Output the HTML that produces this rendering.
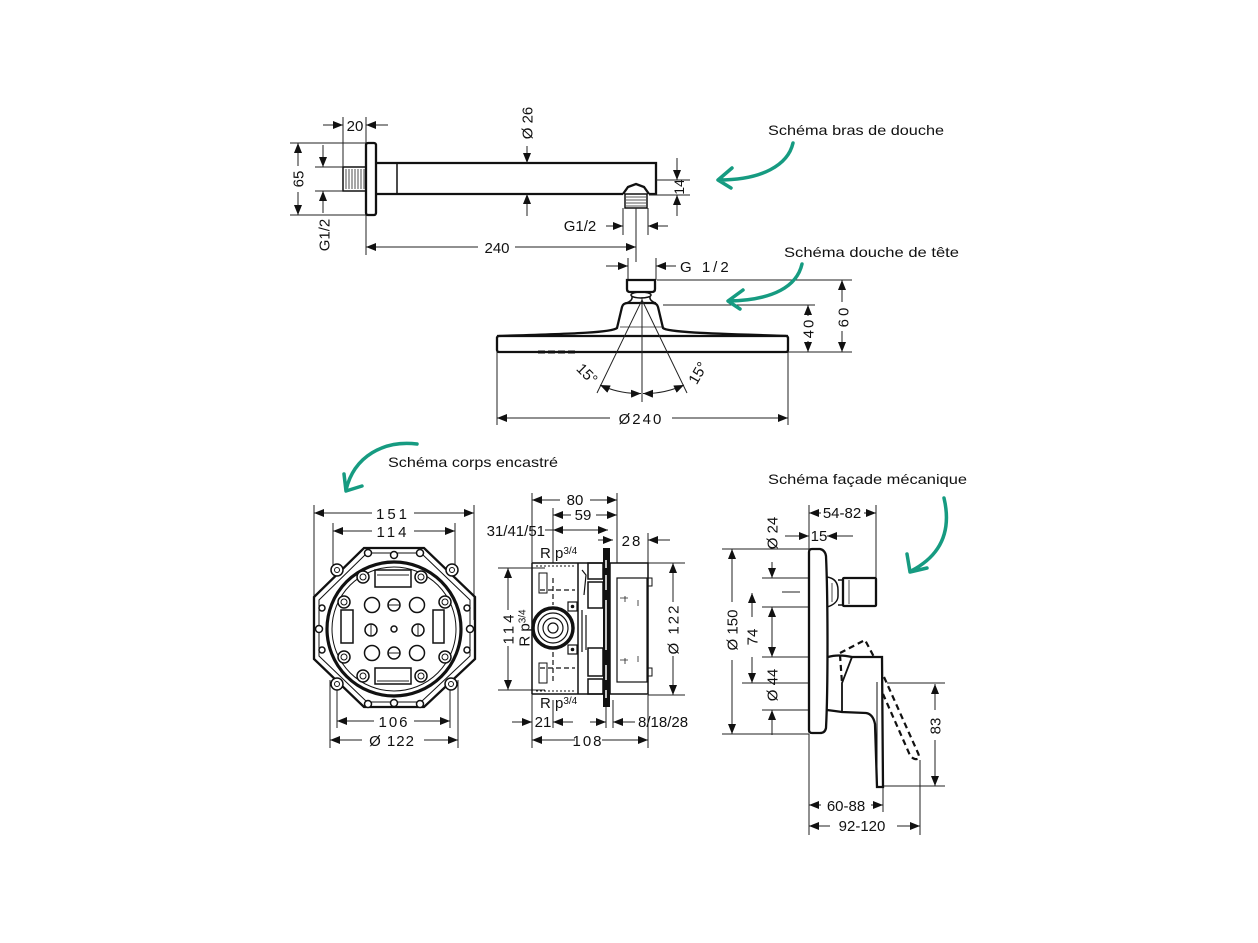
<!DOCTYPE html>
<html><head><meta charset="utf-8"><style>
html,body{margin:0;padding:0;background:#fff;}
svg{display:block;}
text{font-family:"Liberation Sans",sans-serif;fill:#111;}
.o{fill:none;stroke:#111;stroke-width:2.3;}
.t{fill:none;stroke:#222;stroke-width:1;}
.h{fill:none;stroke:#222;stroke-width:0.8;}
.d{fill:none;stroke:#222;stroke-width:1;marker-end:url(#ah);}
.dd{fill:none;stroke:#222;stroke-width:1;marker-start:url(#ah);marker-end:url(#ah);}
.g{fill:none;stroke:#169b81;stroke-width:3.5;stroke-linecap:round;stroke-linejoin:round;}
.dash{fill:none;stroke:#111;stroke-width:2.2;stroke-dasharray:6 4;}
.n{font-size:15px;}
.lab{font-size:14px;}
</style></head><body>
<svg width="1258" height="943" viewBox="0 0 1258 943" xmlns="http://www.w3.org/2000/svg">
<defs>
<marker id="ah" viewBox="0 0 10 8" refX="10" refY="4" markerWidth="10" markerHeight="8" markerUnits="userSpaceOnUse" orient="auto-start-reverse"><path d="M0,0 L10,4 L0,8z" fill="#111"/></marker>
</defs>
<rect width="1258" height="943" fill="#fff"/>

<!-- ============ BRAS DE DOUCHE ============ -->
<g class="o">
<rect x="366" y="143" width="10" height="72" rx="2"/>
<rect x="343" y="167" width="23" height="24" stroke-width="1.5"/>
<path d="M376,163 H656 V194 H649 M623,194 H376"/>
<path d="M397,163 V194" stroke-width="1.5"/>
<path d="M623,194 L628,187 L636,184 L644,187 L649,194"/>
<rect x="625" y="194" width="22" height="14" stroke-width="1.5"/>
</g>
<path class="h" d="M346,169V189M349,169V189M352,169V189M355,169V189M358,169V189M361,169V189M364,169V189"/>
<path class="h" d="M626,197H646M626,200H646M626,203H646M626,206H646"/>
<!-- dims -->
<path class="t" d="M343,117V167 M366,117V143 M290,143H366 M290,215H366 M315,167H343 M315,191H343 M656,180H690 M649,195H690 M623,208V235 M648,208V235 M366,215V255 M636,208V262"/>
<path class="d" d="M323,125H343"/><path class="d" d="M388,125H366"/>
<text class="n" x="355" y="131" text-anchor="middle">20</text>
<path class="d" d="M527,146V163"/><path class="d" d="M527,216V194"/>
<text class="n" transform="translate(527,123) rotate(-90)" text-anchor="middle" dy="5.5">Ø 26</text>
<path class="d" d="M298,166V143"/><path class="d" d="M298,192V215"/>
<text class="n" transform="translate(298,179) rotate(-90)" text-anchor="middle" dy="5.5">65</text>
<path class="d" d="M323,145V167"/><path class="d" d="M323,213V191"/>
<text class="n" transform="translate(324,235) rotate(-90)" text-anchor="middle" dy="5.5">G1/2</text>
<path class="d" d="M677,158V180"/><path class="d" d="M677,216V195"/>
<text class="n" style="font-size:14px" transform="translate(679,187) rotate(-90)" text-anchor="middle" dy="5">14</text>
<text class="n" x="580" y="231" text-anchor="middle">G1/2</text>
<path class="d" d="M606,226H623"/><path class="d" d="M668,226H648"/>
<path class="d" d="M478,247H366"/><path class="d" d="M515,247H636"/>
<text class="n" x="497" y="253" text-anchor="middle">240</text>

<!-- ============ DOUCHE DE TETE ============ -->
<path class="t" d="M628,258V280 M656,258V280 M657,280H852 M663,305H815 M788,352H852 M497,352V425 M788,352V425"/>
<path class="d" d="M606,266H628"/><path class="d" d="M676,266H656"/>
<text class="n" x="680" y="272" style="letter-spacing:3px">G 1/2</text>
<g class="o">
<path d="M627,280 H655 V289 Q655,292 652,292 H630 Q627,292 627,289 Z"/>
<ellipse cx="641" cy="295" rx="10" ry="3" stroke-width="1.5"/>
<path d="M632,296 Q633,301 626,303 M650,296 Q649,301 656,303" stroke-width="1.5"/>
<path d="M497,336 C560,334 612,333 617,328 L622,307 Q623,303 628,303 L652,303 Q657,303 658,307 L663,328 C668,333 730,334 788,336"/>
<rect x="497" y="336" width="291" height="16" rx="2"/>
</g>
<path class="h" d="M620,327H662"/>
<path d="M538,352H575" stroke="#111" stroke-width="3" stroke-dasharray="7 3"/>
<path class="t" d="M642,297V402 M642,300L597,393 M642,300L687,393"/>
<path class="dd" d="M600,385 A93.5,93.5 0 0,0 641,393.5"/>
<path class="dd" d="M684,385 A93.5,93.5 0 0,1 643,393.5"/>
<text class="n" transform="translate(587,374) rotate(45)" text-anchor="middle" dy="5">15°</text>
<text class="n" transform="translate(698,373) rotate(-60)" text-anchor="middle" dy="5">15°</text>
<path class="d" d="M610,418H497"/><path class="d" d="M672,418H788"/>
<text class="n" x="641" y="424" text-anchor="middle" style="letter-spacing:2px">Ø240</text>
<path class="d" d="M808,316V305"/><path class="d" d="M808,341V352"/>
<text class="n" transform="translate(808,328) rotate(-90)" text-anchor="middle" dy="5.5" style="letter-spacing:2px">40</text>
<path class="d" d="M842,302V280"/><path class="d" d="M842,331V352"/>
<text class="n" transform="translate(843,316) rotate(-90)" text-anchor="middle" dy="5.5" style="letter-spacing:3px">60</text>

<!-- ============ CORPS ENCASTRE (octagon) ============ -->
<path class="t" d="M314,505V650 M474,505V620 M333,523V575 M455,523V575 M337,690V728 M450,690V728 M330,680V748 M458,680V748"/>
<path class="d" d="M372,513H314"/><path class="d" d="M414,513H474"/>
<text class="n" x="393" y="519" text-anchor="middle" style="letter-spacing:3px">151</text>
<path class="d" d="M372,531H333"/><path class="d" d="M414,531H455"/>
<text class="n" x="393" y="537" text-anchor="middle" style="letter-spacing:3px">114</text>
<path class="d" d="M374,721H337"/><path class="d" d="M414,721H450"/>
<text class="n" x="394" y="727" text-anchor="middle" style="letter-spacing:2px">106</text>
<path class="d" d="M362,740H330"/><path class="d" d="M424,740H458"/>
<text class="n" x="392" y="746" text-anchor="middle" style="letter-spacing:1px">Ø  122</text>
<g class="o">
<path d="M364,548 H424 L475,597 V659 L424,707 H364 L314,659 V597 Z"/>
<path d="M367,553 H421 L470,600 V656 L421,702 H367 L319,656 V600 Z" stroke-width="1"/>
<circle cx="394" cy="629" r="67" stroke-width="3.2"/>
<circle cx="394" cy="629" r="62" stroke-width="1"/>
</g>
<g fill="#fff" stroke="#111" stroke-width="1.5">
<circle cx="337" cy="570" r="6"/><circle cx="452" cy="570" r="6"/><circle cx="337" cy="684" r="6"/><circle cx="451" cy="684" r="6"/>
<circle cx="363" cy="577" r="6"/><circle cx="421" cy="577" r="6"/><circle cx="344" cy="602" r="6"/><circle cx="445" cy="602" r="6"/>
<circle cx="344" cy="657" r="6"/><circle cx="445" cy="657" r="6"/><circle cx="363" cy="676" r="6"/><circle cx="421" cy="676" r="6"/>
<circle cx="394" cy="555" r="3.5"/><circle cx="394" cy="703" r="3.5"/><circle cx="368" cy="553" r="3.5"/><circle cx="420" cy="553" r="3.5"/>
<circle cx="368" cy="704" r="3.5"/><circle cx="420" cy="704" r="3.5"/><circle cx="319" cy="629" r="3.5"/><circle cx="470" cy="629" r="3.5"/>
<circle cx="322" cy="608" r="3"/><circle cx="322" cy="650" r="3"/><circle cx="467" cy="608" r="3"/><circle cx="467" cy="650" r="3"/>
</g>
<g fill="none" stroke="#111" stroke-width="1">
<circle cx="337" cy="570" r="2.5"/><circle cx="452" cy="570" r="2.5"/><circle cx="337" cy="684" r="2.5"/><circle cx="451" cy="684" r="2.5"/>
<circle cx="363" cy="577" r="3"/><circle cx="421" cy="577" r="3"/><circle cx="344" cy="602" r="3"/><circle cx="445" cy="602" r="3"/>
<circle cx="344" cy="657" r="3"/><circle cx="445" cy="657" r="3"/><circle cx="363" cy="676" r="3"/><circle cx="421" cy="676" r="3"/>
</g>
<g fill="none" stroke="#111" stroke-width="1.5">
<rect x="375" y="570" width="36" height="17"/><rect x="375" y="668" width="36" height="16"/>
<rect x="341" y="610" width="12" height="33"/><rect x="433" y="610" width="11" height="33"/>
<circle cx="372" cy="605" r="7.5"/><circle cx="417" cy="605" r="7.5"/><circle cx="372" cy="653" r="7.5"/><circle cx="417" cy="653" r="7.5"/>
<circle cx="394" cy="605" r="6"/><circle cx="394" cy="653" r="6"/><circle cx="371" cy="630" r="6"/><circle cx="418" cy="630" r="6"/>
<circle cx="394" cy="629" r="3"/>
</g>
<path class="t" d="M388,605H400 M388,653H400 M371,624V636 M418,624V636 M377,575H409 M377,681H409"/>

<!-- ============ CORPS ENCASTRE (side) ============ -->
<path class="t" d="M532,493V748 M553,508V563 M553,700V728 M617,493V563 M648,533V563 M648,695V748 M606,700V728 M613,700V728 M498,568H545 M498,690H545 M648,563H685 M648,695H685"/>
<path class="d" d="M560,500H532"/><path class="d" d="M590,500H617"/>
<text class="n" x="575" y="505" text-anchor="middle">80</text>
<path class="d" d="M571,515H553"/><path class="d" d="M596,515H617"/>
<text class="n" x="583" y="520" text-anchor="middle">59</text>
<text class="n" x="545" y="536" text-anchor="end">31/41/51</text>
<path class="t" d="M545,530H553"/><path class="dd" d="M553,530H608"/>
<path class="d" d="M598,540H613"/><path class="d" d="M670,540H648"/>
<text class="n" x="632" y="546" text-anchor="middle" style="letter-spacing:2px">28</text>
<text class="n" x="540" y="558">R p<tspan style="font-size:10px" dy="-4">3/4</tspan></text>
<text class="n" x="540" y="708">R p<tspan style="font-size:10px" dy="-4">3/4</tspan></text>
<path class="d" d="M508,610V568"/><path class="d" d="M508,646V690"/>
<text class="n" transform="translate(508,628) rotate(-90)" text-anchor="middle" dy="5.5" style="letter-spacing:3px">114</text>
<text class="n" transform="translate(524,628) rotate(-90)" text-anchor="middle" dy="5.5">R p<tspan style="font-size:10px" dy="-4">3/4</tspan></text>
<path class="d" d="M673,602V563"/><path class="d" d="M673,656V695"/>
<text class="n" transform="translate(673,629) rotate(-90)" text-anchor="middle" dy="5.5" style="letter-spacing:2px">Ø 122</text>
<path class="d" d="M512,722H532"/><path class="d" d="M573,722H553"/>
<text class="n" x="543" y="727" text-anchor="middle">21</text>
<path class="d" d="M590,722H606"/><path class="d" d="M635,722H613"/>
<text class="n" x="638" y="727">8/18/28</text>
<path class="d" d="M575,740H532"/><path class="d" d="M602,740H648"/>
<text class="n" x="588" y="746" text-anchor="middle" style="letter-spacing:2px">108</text>
<g fill="none" stroke="#111" stroke-width="1.5">
<path d="M532,563H603 M532,694H603 M532,563V694 M578,563V694"/>
<rect x="588" y="563" width="15" height="16"/><rect x="588" y="582" width="15" height="26"/>
<rect x="588" y="648" width="15" height="28"/><rect x="588" y="679" width="15" height="15"/>
<path d="M582,570 L586,575 L584,595 M582,610 V652 M586,615 V650" stroke-width="1.2"/>
<rect x="539" y="573" width="8" height="20" stroke-width="1"/><rect x="539" y="663" width="8" height="20" stroke-width="1"/>
<rect x="568" y="602" width="9" height="9" stroke-width="1.2"/><rect x="568" y="645" width="9" height="9" stroke-width="1.2"/>
<circle cx="553" cy="628" r="20" stroke-width="3.5"/>
<circle cx="553" cy="628" r="15" stroke-width="1.2"/>
<circle cx="553" cy="628" r="10" stroke-width="1.2"/>
<circle cx="553" cy="628" r="5" stroke-width="1.2"/>
<rect x="610" y="563" width="38" height="131"/>
<rect x="617" y="578" width="30" height="104" stroke-width="1.2"/>
<rect x="648" y="578" width="4" height="8" stroke-width="1"/><rect x="648" y="668" width="4" height="8" stroke-width="1"/>
</g>
<circle cx="572.5" cy="606.5" r="1.8" fill="#111"/><circle cx="572.5" cy="649.5" r="1.8" fill="#111"/>
<path d="M553,578V605 M553,652V682 M540,590H575 M540,668H575" stroke="#111" stroke-width="1.2" stroke-dasharray="5 3" fill="none"/>
<path d="M536,566H576 M536,691H576" stroke="#111" stroke-width="1" stroke-dasharray="2 2" fill="none"/>
<rect x="603" y="548" width="7" height="159" fill="#111"/>
<path d="M606,560V568 M606,575V590 M606,600V650 M606,665V680 M606,690V698" stroke="#fff" stroke-width="1.5"/>
<path class="h" d="M625,596V602 M638,600V606 M625,658V664 M638,656V662 M620,598H628 M620,660H628"/>

<!-- ============ FACADE MECANIQUE ============ -->
<path class="t" d="M809,505V549 M876,505V578 M722,549H809 M762,578H809 M782,592H800 M762,607H809 M762,657H809 M742,683H809 M762,710H809 M722,734H809 M809,734V835 M883,786V812 M920,760V835 M887,683H945 M883,786H945"/>
<path class="d" d="M821,513H809"/><path class="d" d="M864,513H876"/>
<text class="n" x="842" y="518" text-anchor="middle">54-82</text>
<path class="d" d="M785,536H809"/><path class="d" d="M853,536H827"/>
<text class="n" x="819" y="541" text-anchor="middle">15</text>
<path class="d" d="M772,562V578"/><path class="d" d="M772,645V607"/><path class="d" d="M772,620V657"/><path class="d" d="M772,735V710"/>
<text class="n" transform="translate(772,533) rotate(-90)" text-anchor="middle" dy="5.5">Ø 24</text>
<text class="n" transform="translate(772,685) rotate(-90)" text-anchor="middle" dy="5.5">Ø 44</text>
<path class="d" d="M752,617V593"/><path class="d" d="M752,657V683"/>
<text class="n" transform="translate(752,637) rotate(-90)" text-anchor="middle" dy="5.5">74</text>
<path class="d" d="M732,602V549"/><path class="d" d="M732,660V734"/>
<text class="n" transform="translate(732,630) rotate(-90)" text-anchor="middle" dy="5.5">Ø 150</text>
<path class="d" d="M935,710V684"/><path class="d" d="M935,740V786"/>
<text class="n" transform="translate(935,726) rotate(-90)" text-anchor="middle" dy="5.5">83</text>
<path class="d" d="M821,805H809"/><path class="d" d="M871,805H883"/>
<text class="n" x="846" y="811" text-anchor="middle">60-88</text>
<path class="d" d="M830,826H809"/><path class="d" d="M897,826H920"/>
<text class="n" x="862" y="831" text-anchor="middle">92-120</text>
<g class="o">
<path d="M809,552 Q809,549 812,549 L820,549 Q825,550 826,556 C828,600 828,690 826,728 Q825,733 820,733 L812,733 Q809,733 809,730 Z"/>
<path d="M827,577 C834,578 838,582 838,590 L838,596 C838,601 834,605 827,607" stroke-width="1.5"/>
<path d="M838,580 H843 V605 H838" stroke-width="1.5"/>
<rect x="843" y="578" width="33" height="28" rx="1"/>
<path d="M828,657 Q838,654 852,657 L882,657 L883,787 L877,787 L875,724 Q873,714 866,713 L842,712 Q835,711 827,710"/>
<path d="M852,657 L842,683 L842,712" stroke-width="1.8"/>
</g>
<path class="h" d="M849,580V604 M832,583V602"/>
<path d="M877,682V777" stroke="#111" stroke-width="1" fill="none"/>
<path class="dash" d="M840,653 L865,640 L874,657 M840,655 L842,683"/>
<path class="dash" d="M884,677 L918,753 Q921,760 915,759 Q911,758 909,753 L883,694"/>

<!-- ============ ANNOTATIONS ============ -->
<text class="lab" x="768" y="135" textLength="176" lengthAdjust="spacingAndGlyphs">Schéma bras de douche</text>
<text class="lab" x="784" y="257" textLength="175" lengthAdjust="spacingAndGlyphs">Schéma douche de tête</text>
<text class="lab" x="388" y="467" textLength="170" lengthAdjust="spacingAndGlyphs">Schéma corps encastré</text>
<text class="lab" x="768" y="484" textLength="199" lengthAdjust="spacingAndGlyphs">Schéma façade mécanique</text>
<path class="g" d="M793,143 C788,165 762,180 719,180 M732,168 L718,180 L731,188"/>
<path class="g" d="M802,264 C797,286 774,300 729,301 M743,290 L728,301 L740,309"/>
<path class="g" d="M417,444 C384,440 354,456 346,490 M344,474 L346,491 L362,486"/>
<path class="g" d="M944,498 C952,532 940,556 911,571 M907,554 L910,572 L927,568"/>
</svg>
</body></html>
